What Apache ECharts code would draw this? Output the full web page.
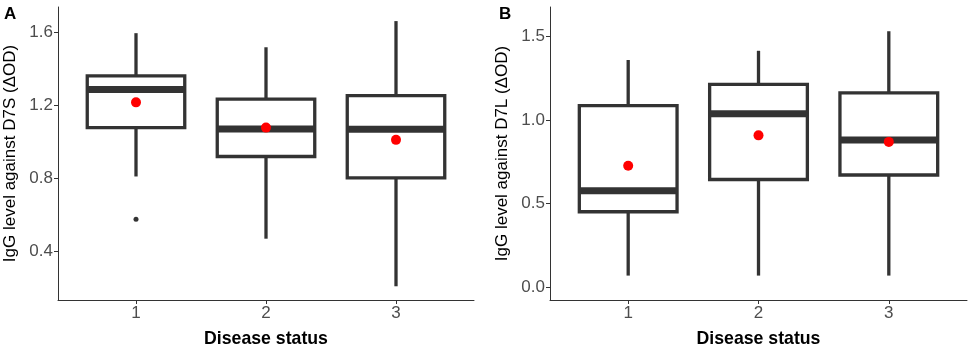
<!DOCTYPE html>
<html>
<head>
<meta charset="utf-8">
<script src="https://cdn.jsdelivr.net/npm/echarts@6/dist/echarts.min.js"></script>
<style>
  html, body { margin: 0; padding: 0; background: #fff; }
  #main { width: 972px; height: 353px; }
</style>
</head>
<body>
<div id="main"></div>
<script>
// 疾病状态分组
const categories = [1, 2, 3]

// A: D7S
const aLower = [0.81, 0.47, 0.21]
const aQ1 = [1.077, 0.919, 0.802]
const aMedian = [1.285, 1.07, 1.068]
const aQ3 = [1.36, 1.233, 1.252]
const aUpper = [1.593, 1.516, 1.659]
const aMean = [1.215, 1.077, 1.01]
const aOutliers = [[1, 0.576]]
const aTicks = [0.4, 0.8, 1.2, 1.6]

// B: D7L
const bLower = [0.069, 0.069, 0.069]
const bQ1 = [0.451, 0.644, 0.671]
const bMedian = [0.577, 1.038, 0.881]
const bQ3 = [1.086, 1.213, 1.162]
const bUpper = [1.359, 1.414, 1.531]
const bMean = [0.726, 0.908, 0.869]
const bOutliers = []
const bTicks = [0, 0.5, 1.0, 1.5]

const dark = '#333333'
const font = 'Liberation Sans, Arial, sans-serif'

function boxData(lower, q1, med, q3, upper) {
  return categories.map((c, i) => [c, lower[i], q1[i], med[i], q3[i], upper[i]])
}

/** 箱线图 */
function renderBox(params, api) {
  const x = api.value(0)
  const hw = 0.375
  const low = api.coord([x, api.value(1)])
  const q1 = api.coord([x, api.value(2)])
  const med = api.coord([x, api.value(3)])
  const q3 = api.coord([x, api.value(4)])
  const high = api.coord([x, api.value(5)])
  const left = api.coord([x - hw, api.value(3)])[0]
  const right = api.coord([x + hw, api.value(3)])[0]
  const line = { stroke: dark, lineWidth: 3.3 }
  return {
    type: 'group',
    children: [
      { type: 'line', shape: { x1: high[0], y1: high[1], x2: q3[0], y2: q3[1] }, style: line },
      { type: 'line', shape: { x1: q1[0], y1: q1[1], x2: low[0], y2: low[1] }, style: line },
      {
        type: 'rect',
        shape: { x: left, y: q3[1], width: right - left, height: q1[1] - q3[1] },
        style: { fill: '#fff', stroke: dark, lineWidth: 3.3 }
      },
      { type: 'line', shape: { x1: left, y1: med[1], x2: right, y2: med[1] }, style: { stroke: dark, lineWidth: 7 } }
    ]
  }
}

function xAxisOf(gridIndex) {
  return {
    type: 'value',
    gridIndex: gridIndex,
    min: 0.4,
    max: 3.6,
    name: 'Disease status',
    nameLocation: 'middle',
    nameGap: 30,
    nameTextStyle: { color: '#000', fontSize: 17.7, fontWeight: 'bold', fontFamily: font },
    axisLine: { onZero: false, lineStyle: { color: dark, width: 1 } },
    axisTick: { show: true, length: 4, lineStyle: { color: dark }, customValues: categories },
    axisLabel: { color: '#4d4d4d', fontSize: 17, fontFamily: font, margin: 5, customValues: categories },
    splitLine: { show: false }
  }
}

function yAxisOf(gridIndex, name, min, max, ticks, digits) {
  return {
    type: 'value',
    gridIndex: gridIndex,
    min: min,
    max: max,
    name: name,
    nameLocation: 'middle',
    nameGap: 39,
    nameTextStyle: { color: '#000', fontSize: 17, fontFamily: font },
    axisLine: { show: true, onZero: false, lineStyle: { color: dark, width: 1 } },
    axisTick: { show: true, length: 4, lineStyle: { color: dark }, customValues: ticks },
    axisLabel: {
      color: '#4d4d4d',
      fontSize: 17,
      fontFamily: font,
      margin: 5,
      customValues: ticks,
      formatter: v => Number(v).toFixed(digits)
    },
    splitLine: { show: false }
  }
}

const chart = echarts.init(document.getElementById('main'))
chart.setOption({
  animation: false,
  grid: [
    { left: 58, right: 498, top: 7, bottom: 40.5 },
    { left: 550, right: 5, top: 7, bottom: 40.5 }
  ],
  xAxis: [xAxisOf(0), xAxisOf(1)],
  yAxis: [
    yAxisOf(0, 'IgG level against D7S (ΔOD)', 0.135, 1.736, aTicks, 1),
    yAxisOf(1, 'IgG level against D7L (ΔOD)', -0.077, 1.676, bTicks, 1)
  ],
  graphic: [
    { type: 'text', left: 4, top: 6, style: { text: 'A', fontSize: 17, fontWeight: 'bold', fontFamily: font, fill: '#000' } },
    { type: 'text', left: 499, top: 6, style: { text: 'B', fontSize: 17, fontWeight: 'bold', fontFamily: font, fill: '#000' } }
  ],
  series: [
    {
      type: 'custom',
      xAxisIndex: 0,
      yAxisIndex: 0,
      renderItem: renderBox,
      encode: { x: 0, y: [1, 2, 3, 4, 5] },
      data: boxData(aLower, aQ1, aMedian, aQ3, aUpper)
    },
    {
      type: 'scatter',
      xAxisIndex: 0,
      yAxisIndex: 0,
      symbolSize: 5,
      itemStyle: { color: dark, opacity: 1 },
      data: aOutliers
    },
    {
      type: 'scatter',
      xAxisIndex: 0,
      yAxisIndex: 0,
      symbolSize: 10,
      itemStyle: { color: '#ff0000', opacity: 1 },
      data: categories.map((c, i) => [c, aMean[i]])
    },
    {
      type: 'custom',
      xAxisIndex: 1,
      yAxisIndex: 1,
      renderItem: renderBox,
      encode: { x: 0, y: [1, 2, 3, 4, 5] },
      data: boxData(bLower, bQ1, bMedian, bQ3, bUpper)
    },
    {
      type: 'scatter',
      xAxisIndex: 1,
      yAxisIndex: 1,
      symbolSize: 5,
      itemStyle: { color: dark, opacity: 1 },
      data: bOutliers
    },
    {
      type: 'scatter',
      xAxisIndex: 1,
      yAxisIndex: 1,
      symbolSize: 10,
      itemStyle: { color: '#ff0000', opacity: 1 },
      data: categories.map((c, i) => [c, bMean[i]])
    }
  ]
})
</script>
</body>
</html>
